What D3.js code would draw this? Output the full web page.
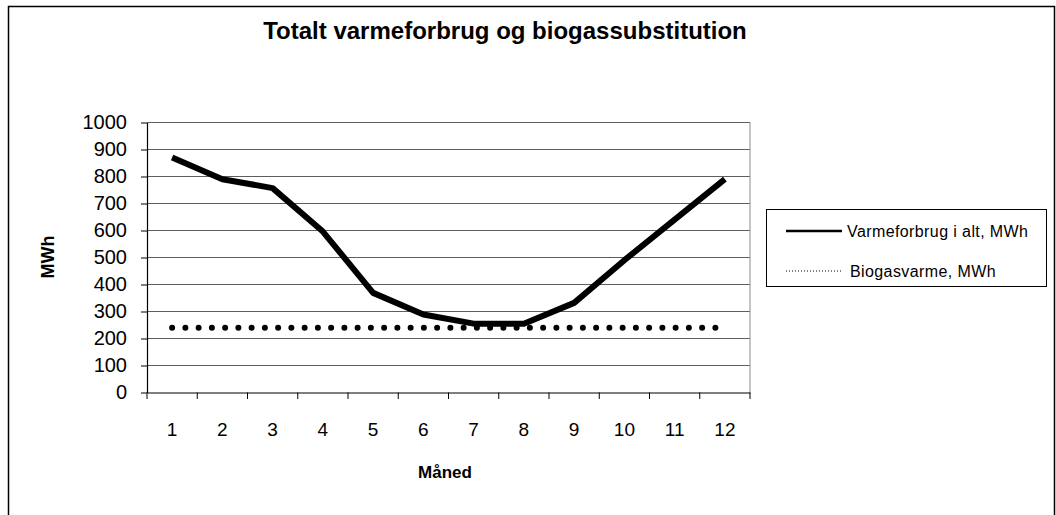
<!DOCTYPE html>
<html>
<head>
<meta charset="utf-8">
<script src="https://cdn.jsdelivr.net/npm/d3@7"></script>
<style>
  body { margin: 0; background: #fff; }
  svg { display: block; font-family: "Liberation Sans", Arial, sans-serif; }
</style>
</head>
<body>
<svg id="chart" width="1056" height="515"></svg>
<script>
const months = ['1','2','3','4','5','6','7','8','9','10','11','12'];
const varmeforbrug = [870, 790, 757, 596, 369, 289, 255, 255, 332, 490, 640, 790];
const biogasvarme = [240, 240, 240, 240, 240, 240, 240, 240, 240, 240, 240, 240];
const yTicks = [0, 100, 200, 300, 400, 500, 600, 700, 800, 900, 1000];
const seriesNames = ['Varmeforbrug i alt, MWh', 'Biogasvarme, MWh'];

const svg = d3.select('#chart');

// outer frame
svg.append('rect')
    .attr('x', 8.5).attr('y', 6.5)
    .attr('width', 1046).attr('height', 520)
    .attr('fill', 'none')
    .attr('stroke', '#000')
    .attr('stroke-width', 1.5);

const xScale = d3.scaleBand()
    .domain(months)
    .range([147, 750])
    .padding(0);

const yScale = d3.scaleLinear()
    .domain([0, 1000])
    .range([392.5, 122.5]);

const cx = m => xScale(m) + xScale.bandwidth() / 2;

// grid lines
svg.append('g')
    .selectAll('line')
    .data(yTicks.filter(d => d > 0))
    .join('line')
    .attr('x1', 147).attr('x2', 750)
    .attr('y1', d => yScale(d)).attr('y2', d => yScale(d))
    .attr('stroke', '#5e5e5e')
    .attr('stroke-width', 1.2);

// plot right border
svg.append('line')
    .attr('x1', 750).attr('x2', 750)
    .attr('y1', yScale(1000)).attr('y2', yScale(0))
    .attr('stroke', '#8a8a8a');

// y axis
const yAxis = svg.append('g')
    .attr('transform', 'translate(147,0)')
    .call(d3.axisLeft(yScale).tickValues(yTicks).tickFormat(d3.format('d'))
        .tickSize(6).tickPadding(14).tickSizeOuter(0));
yAxis.select('.domain').attr('stroke', '#000').attr('stroke-width', 1.2);
yAxis.selectAll('.tick line').attr('stroke', '#000');
yAxis.selectAll('text')
    .attr('font-family', '"Liberation Sans", Arial, sans-serif')
    .attr('font-size', 20)
    .attr('fill', '#000');

// x axis
const xAxis = svg.append('g')
    .attr('transform', 'translate(0,392.5)')
    .call(d3.axisBottom(xScale).tickSize(0).tickPadding(30));
xAxis.select('.domain').attr('stroke', '#000').attr('stroke-width', 1.2);
xAxis.selectAll('text')
    .attr('font-family', '"Liberation Sans", Arial, sans-serif')
    .attr('font-size', 19)
    .attr('fill', '#000');

const xEdges = months.map(m => xScale(m)).concat([xScale.range()[1]]);
svg.append('g')
    .selectAll('line')
    .data(xEdges)
    .join('line')
    .attr('x1', d => d).attr('x2', d => d)
    .attr('y1', 392.5).attr('y2', 399)
    .attr('stroke', '#000');

// series
const line = d3.line()
    .x((d, i) => cx(months[i]))
    .y(d => yScale(d));

svg.append('path')
    .attr('d', line(biogasvarme))
    .attr('fill', 'none')
    .attr('stroke', '#000')
    .attr('stroke-width', 6)
    .attr('stroke-linecap', 'round')
    .attr('stroke-dasharray', '0,13.25');

svg.append('path')
    .attr('d', line(varmeforbrug))
    .attr('fill', 'none')
    .attr('stroke', '#000')
    .attr('stroke-width', 6)
    .attr('stroke-linejoin', 'round');

// title
svg.append('text')
    .attr('x', 505).attr('y', 39)
    .attr('text-anchor', 'middle')
    .attr('font-size', 24)
    .attr('font-weight', 'bold')
    .text('Totalt varmeforbrug og biogassubstitution');

// axis titles
svg.append('text')
    .attr('x', 445).attr('y', 478)
    .attr('text-anchor', 'middle')
    .attr('font-size', 17)
    .attr('font-weight', 'bold')
    .text('Måned');

svg.append('text')
    .attr('transform', 'translate(54,257) rotate(-90)')
    .attr('text-anchor', 'middle')
    .attr('font-size', 18)
    .attr('font-weight', 'bold')
    .text('MWh');

// legend
const legend = svg.append('g');
legend.append('rect')
    .attr('x', 766.5).attr('y', 209.5)
    .attr('width', 280).attr('height', 77)
    .attr('fill', '#fff')
    .attr('stroke', '#000');

const legendY = [231, 271];
legend.selectAll('line.key')
    .data(seriesNames)
    .join('line')
    .attr('class', 'key')
    .attr('x1', 786).attr('x2', 842)
    .attr('y1', (d, i) => legendY[i]).attr('y2', (d, i) => legendY[i])
    .attr('stroke', '#000')
    .attr('stroke-width', (d, i) => i === 0 ? 2.5 : 1)
    .attr('stroke-dasharray', (d, i) => i === 0 ? null : '1,2');

legend.selectAll('text')
    .data(seriesNames)
    .join('text')
    .attr('x', (d, i) => i === 0 ? 847 : 850)
    .attr('y', (d, i) => legendY[i] + 6)
    .attr('font-size', 16)
    .attr('letter-spacing', 0.4)
    .text(d => d);
</script>
</body>
</html>
